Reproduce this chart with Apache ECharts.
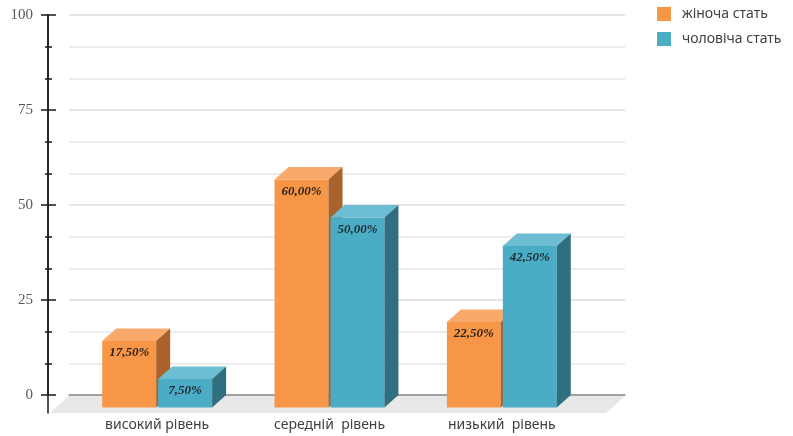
<!DOCTYPE html>
<html><head><meta charset="utf-8">
<script src="https://cdn.jsdelivr.net/npm/echarts@6/dist/echarts.min.js"></script>
<style>html,body{margin:0;padding:0;background:#fff}#c{width:793px;height:436px}</style>
</head><body><div id="c"></div>
<script>
const categories = ['високий рівень', 'середній  рівень', 'низький  рівень'];
const seriesNames = ['жіноча стать', 'чоловіча стать'];
const female = [17.5, 60, 22.5];
const male = [7.5, 50, 42.5];
const yMin = 0, yMax = 100, yInterval = 25;

const DX = 14, DY = 12.5;
const faces = {
  female: { front: '#F79646', top: '#F9A96B', side: '#A9622B', text: '#2a2118' },
  male:   { front: '#4BACC6', top: '#6DBED2', side: '#306F80', text: '#1d2a2e' }
};

function fmt(v) { return v.toFixed(2).replace('.', ',') + '%'; }

function barRender(col, side) {
  return function (params, api) {
    const cat = api.value(0), v = api.value(1);
    const p = api.coord([cat, v]);
    const b = api.coord([cat, 0]);
    const band = api.size([1, 0])[0];
    const w = band * 54 / 172.5;
    const gap = band * 1 / 172.5;
    const x0 = side < 0 ? p[0] - gap - w : p[0] + gap;
    const x1 = x0 + w;
    return {
      type: 'group',
      children: [
        { type: 'rect', shape: { x: x0, y: p[1], width: w, height: b[1] - p[1] }, style: { fill: col.front } },
        { type: 'polygon', shape: { points: [[x0, p[1]], [x1, p[1]], [x1 + DX, p[1] - DY], [x0 + DX, p[1] - DY]] }, style: { fill: col.top } },
        { type: 'polygon', shape: { points: [[x1, p[1]], [x1 + DX, p[1] - DY], [x1 + DX, b[1] - DY], [x1, b[1]]] }, style: { fill: col.side } },
        { type: 'text', x: (x0 + x1) / 2, y: p[1] + 12, style: { text: fmt(v), align: 'center', verticalAlign: 'middle', fill: col.text, font: 'italic bold 13px "Liberation Serif", serif' } }
      ]
    };
  };
}

const chart = echarts.init(document.getElementById('c'), null, { renderer: 'canvas' });
const tickStyle = { color: '#1a1a1a', width: 1.5 };
chart.setOption({
  animation: false,
  backgroundColor: '#ffffff',
  legend: {
    orient: 'vertical', left: 657, top: 7, padding: 0, itemWidth: 14, itemHeight: 14, itemGap: 11,
    icon: 'rect',
    data: seriesNames,
    textStyle: { fontFamily: 'Noto Sans', fontSize: 14, color: '#404040', padding: [0, 0, 0, 6] }
  },
  grid: [
    { left: 69, right: 168, top: 15, bottom: 41 },
    { left: 71, right: 205, top: 27.5, bottom: 28.5 },
    { left: 48, width: 2, top: 15, bottom: 23 },
    { left: 48, width: 2, top: 15, bottom: 41 },
    { left: 48, width: 2, top: 15, bottom: 41 }
  ],
  xAxis: [
    { gridIndex: 0, type: 'value', min: 0, max: 1, axisLine: { show: true, lineStyle: { color: '#8c8c8c', width: 1.5 } }, axisTick: { show: false }, axisLabel: { show: false }, splitLine: { show: false } },
    { gridIndex: 1, type: 'category', data: categories, axisLine: { show: false }, axisTick: { show: false },
      axisLabel: { margin: 11, fontFamily: 'Noto Sans', fontSize: 14, color: '#404040' }, splitLine: { show: false } },
    { gridIndex: 2, type: 'value', show: false },
    { gridIndex: 3, type: 'value', show: false },
    { gridIndex: 4, type: 'value', show: false }
  ],
  yAxis: [
    { gridIndex: 0, min: yMin, max: yMax, interval: yInterval,
      axisLine: { show: false }, axisTick: { show: false }, axisLabel: { show: false },
      splitLine: { show: true, lineStyle: { color: '#DCDCDC', width: 1.5 } },
      minorTick: { show: false, splitNumber: 3 },
      minorSplitLine: { show: true, lineStyle: { color: '#E6E6E6', width: 1.5 } } },
    { gridIndex: 1, min: yMin, max: yMax, show: false },
    { gridIndex: 2, min: 0, max: 1, axisLine: { show: true, lineStyle: tickStyle },
      axisTick: { show: false }, axisLabel: { show: false }, splitLine: { show: false } },
    { gridIndex: 3, min: yMin, max: yMax, interval: yInterval, position: 'left',
      axisLine: { show: true, lineStyle: tickStyle }, axisTick: { show: true, length: 7, lineStyle: tickStyle },
      minorTick: { show: true, splitNumber: 3, length: 3, lineStyle: tickStyle },
      axisLabel: { margin: 15, fontFamily: 'Liberation Serif', fontSize: 15, color: '#595959' },
      splitLine: { show: false } },
    { gridIndex: 4, min: yMin, max: yMax, interval: yInterval, position: 'left',
      axisLine: { show: false }, axisTick: { show: true, inside: true, length: 8, lineStyle: tickStyle },
      minorTick: { show: true, splitNumber: 3, length: 4, lineStyle: tickStyle },
      axisLabel: { show: false }, splitLine: { show: false } }
  ],
  series: [
    { type: 'custom', name: 'floor', xAxisIndex: 0, yAxisIndex: 0, silent: true, z: 1,
      data: [[0, 0]],
      renderItem: function (params, api) {
        const a = api.coord([0, 0]), b = api.coord([1, 0]);
        return { type: 'polygon', shape: { points: [[a[0], a[1] + 1], [b[0], b[1] + 1], [b[0] - 19, b[1] + 18], [a[0] - 19, a[1] + 18]] }, style: { fill: '#E8E8E8' } };
      } },
    { type: 'custom', name: seriesNames[0], xAxisIndex: 1, yAxisIndex: 1, itemStyle: { color: faces.female.front },
      data: female.map((v, i) => [i, v]), renderItem: barRender(faces.female, -1) },
    { type: 'custom', name: seriesNames[1], xAxisIndex: 1, yAxisIndex: 1, itemStyle: { color: faces.male.front },
      data: male.map((v, i) => [i, v]), renderItem: barRender(faces.male, 1) }
  ]
});
</script></body></html>
